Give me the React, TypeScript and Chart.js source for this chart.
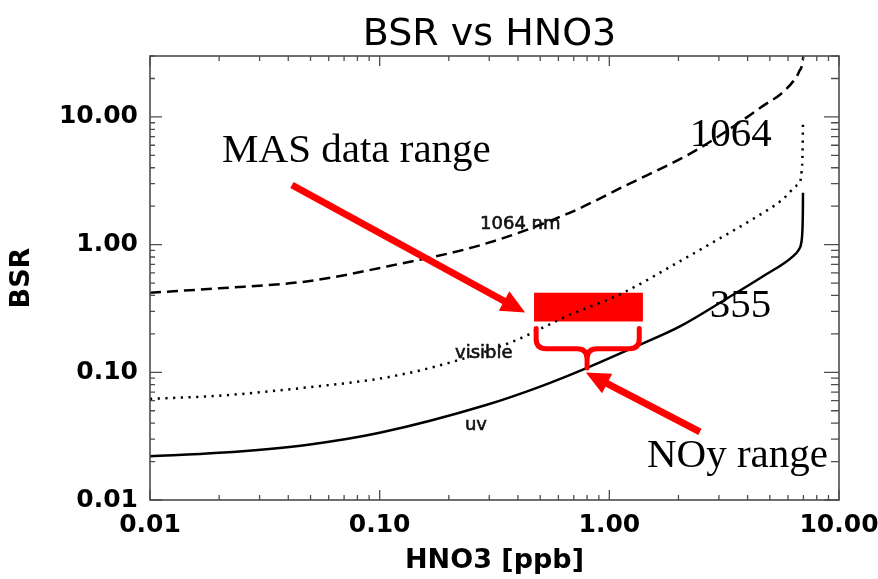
import React, { useEffect, useRef } from "react";
import { Chart, registerables } from "chart.js";

Chart.register(...registerables);

// 1064 nm curve (dashed)
const hno3Ir = [0.01, 0.02, 0.048, 0.11, 0.28, 0.65, 1.2, 2.31, 3.5, 4.67, 5.6, 6.3, 6.7, 6.97, 7.0];
const bsrIr = [0.42, 0.455, 0.515, 0.68, 1.0, 1.73, 2.95, 5.3, 8.5, 12.2, 15.2, 18.9, 22.6, 28.6, 32];

// visible curve (dotted)
const hno3Vis = [0.01, 0.02, 0.048, 0.11, 0.208, 0.38, 0.65, 1.15, 2.0, 2.82, 4.2, 5.7, 6.5, 6.76, 6.88, 6.94, 6.97];
const bsrVis = [0.062, 0.0656, 0.076, 0.092, 0.121, 0.174, 0.274, 0.42, 0.73, 1.04, 1.58, 2.27, 2.88, 3.09, 3.8, 5.2, 9.3];

// uv curve (solid)
const hno3Uv = [0.01, 0.02, 0.048, 0.1, 0.293, 0.5, 0.767, 1.3, 2.03, 3.2, 4.67, 6.3, 6.7, 6.85, 6.93, 6.96, 6.97];
const bsrUv = [0.022, 0.0234, 0.027, 0.0336, 0.0557, 0.0773, 0.105, 0.159, 0.229, 0.372, 0.565, 0.81, 0.92, 1.03, 1.3, 1.8, 2.55];

// axis ticks
const xTickValues = [0.01, 0.1, 1, 10];
const xTickLabels = ["0.01", "0.10", "1.00", "10.00"];
const yTickValues = [0.01, 0.1, 1, 10];
const yTickLabels = ["0.01", "0.10", "1.00", "10.00"];

// MAS data range box (HNO3 span, BSR span)
const masBoxHno3 = [0.47, 1.4];
const masBoxBsr = [0.25, 0.42];
// arrows: [tail, tip]
const masArrowHno3 = [0.0415, 0.43];
const masArrowBsr = [2.93, 0.294];
const noyArrowHno3 = [2.48, 0.79];
const noyArrowBsr = [0.0342, 0.0996];
// brace: [left, centre, right] and [top, bar, tip]
const braceHno3 = [0.48, 0.8, 1.35];
const braceBsr = [0.22, 0.153, 0.108];

// text annotations anchored in data space (left edge, baseline)
const curveNames = ["1064 nm", "visible", "uv"];
const curveNameHno3 = [0.2735, 0.213, 0.235];
const curveNameBsr = [1.32, 0.1305, 0.0355];
const bigNotes = ["MAS data range", "1064", "355", "NOy range"];
const bigNoteHno3 = [0.0206, 2.24, 2.74, 1.458];
const bigNoteBsr = [4.44, 5.93, 0.269, 0.01815];

const toPoints = (xs: number[], ys: number[]) => xs.map((x, i) => ({ x, y: ys[i] }));

const RED = "#ff0000";
const FRAME = "#4d4d4d";

function logTicks(min: number, max: number) {
  const out: { v: number; major: boolean }[] = [];
  for (let e = Math.floor(Math.log10(min)); e <= Math.ceil(Math.log10(max)); e++) {
    for (let k = 1; k <= 9; k++) {
      const v = k * Math.pow(10, e);
      if (v >= min * 0.999 && v <= max * 1.001) out.push({ v, major: k === 1 });
    }
  }
  return out;
}

const titlePlugin = {
  id: "plotTitle",
  afterDraw(chart: any) {
    const { ctx, chartArea: a } = chart;
    ctx.save();
    ctx.fillStyle = "#000";
    ctx.font = "38px 'DejaVu Sans'";
    ctx.textAlign = "center";
    ctx.textBaseline = "alphabetic";
    ctx.fillText("BSR vs HNO3", (a.left + a.right) / 2 - 5, a.top - 11);
    ctx.restore();
  },
};

const boxPlugin = {
  id: "masBox",
  beforeDatasetsDraw(chart: any) {
    const { ctx, scales } = chart;
    const x0 = scales.x.getPixelForValue(masBoxHno3[0]);
    const x1 = scales.x.getPixelForValue(masBoxHno3[1]);
    const y0 = scales.y.getPixelForValue(masBoxBsr[1]);
    const y1 = scales.y.getPixelForValue(masBoxBsr[0]);
    ctx.save();
    ctx.fillStyle = RED;
    ctx.fillRect(x0, y0, x1 - x0, y1 - y0);
    ctx.restore();
  },
};

function drawArrow(ctx: CanvasRenderingContext2D, x0: number, y0: number, x1: number, y1: number) {
  const dx = x1 - x0;
  const dy = y1 - y0;
  const len = Math.hypot(dx, dy);
  const ux = dx / len;
  const uy = dy / len;
  const head = 24;
  const half = 11;
  const bx = x1 - ux * head;
  const by = y1 - uy * head;
  ctx.beginPath();
  ctx.moveTo(x0, y0);
  ctx.lineTo(bx + ux * 2, by + uy * 2);
  ctx.stroke();
  ctx.beginPath();
  ctx.moveTo(x1, y1);
  ctx.lineTo(bx - uy * half, by + ux * half);
  ctx.lineTo(bx + uy * half, by - ux * half);
  ctx.closePath();
  ctx.fill();
}

const notesPlugin = {
  id: "notes",
  afterDatasetsDraw(chart: any) {
    const { ctx, scales } = chart;
    const px = (v: number) => scales.x.getPixelForValue(v);
    const py = (v: number) => scales.y.getPixelForValue(v);
    ctx.save();

    // arrows
    ctx.strokeStyle = RED;
    ctx.fillStyle = RED;
    ctx.lineWidth = 7;
    ctx.lineCap = "butt";
    drawArrow(ctx, px(masArrowHno3[0]), py(masArrowBsr[0]), px(masArrowHno3[1]), py(masArrowBsr[1]));
    drawArrow(ctx, px(noyArrowHno3[0]), py(noyArrowBsr[0]), px(noyArrowHno3[1]), py(noyArrowBsr[1]));

    // brace under the box
    const bl = px(braceHno3[0]);
    const bc = px(braceHno3[1]);
    const br = px(braceHno3[2]);
    const bt = py(braceBsr[0]);
    const bm = py(braceBsr[1]);
    const bp = py(braceBsr[2]);
    const r = 10;
    ctx.lineWidth = 5;
    ctx.lineCap = "round";
    ctx.lineJoin = "round";
    ctx.beginPath();
    ctx.moveTo(bl, bt);
    ctx.lineTo(bl, bm - r);
    ctx.quadraticCurveTo(bl, bm, bl + r, bm);
    ctx.lineTo(bc - r, bm);
    ctx.quadraticCurveTo(bc, bm, bc, bm + r);
    ctx.lineTo(bc, bp);
    ctx.moveTo(br, bt);
    ctx.lineTo(br, bm - r);
    ctx.quadraticCurveTo(br, bm, br - r, bm);
    ctx.lineTo(bc + r, bm);
    ctx.quadraticCurveTo(bc, bm, bc, bm + r);
    ctx.stroke();

    // curve names (slightly heavy)
    ctx.fillStyle = "#111";
    ctx.strokeStyle = "#111";
    ctx.lineWidth = 0.6;
    ctx.font = "18px 'DejaVu Sans'";
    ctx.textAlign = "left";
    ctx.textBaseline = "alphabetic";
    curveNames.forEach((t, i) => {
      const x = px(curveNameHno3[i]);
      const y = py(curveNameBsr[i]);
      ctx.fillText(t, x, y);
      ctx.strokeText(t, x, y);
    });

    // large serif notes
    ctx.fillStyle = "#000";
    ctx.font = "41px 'Liberation Serif'";
    bigNotes.forEach((t, i) => ctx.fillText(t, px(bigNoteHno3[i]), py(bigNoteBsr[i])));

    ctx.restore();
  },
};

const framePlugin = {
  id: "frameTicks",
  afterDatasetsDraw(chart: any) {
    const { ctx, chartArea: a, scales } = chart;
    const xs = scales.x;
    const ys = scales.y;
    ctx.save();
    ctx.strokeStyle = FRAME;
    ctx.lineWidth = 1.6;
    ctx.strokeRect(a.left, a.top, a.right - a.left, a.bottom - a.top);
    ctx.lineWidth = 1.3;
    ctx.beginPath();
    for (const t of logTicks(xs.min, xs.max)) {
      const x = xs.getPixelForValue(t.v);
      const L = t.major ? 10 : 5;
      ctx.moveTo(x, a.bottom);
      ctx.lineTo(x, a.bottom - L);
      ctx.moveTo(x, a.top);
      ctx.lineTo(x, a.top + L);
    }
    for (const t of logTicks(ys.min, ys.max)) {
      const y = ys.getPixelForValue(t.v);
      ctx.moveTo(a.left, y);
      ctx.lineTo(a.left + (t.major ? 12 : 5), y);
      ctx.moveTo(a.right, y);
      ctx.lineTo(a.right - (t.major ? 15 : 8), y);
    }
    ctx.stroke();
    ctx.restore();
  },
};

export default function App() {
  const ref = useRef<HTMLCanvasElement | null>(null);

  useEffect(() => {
    if (!ref.current) return;
    const tickFont = { family: "'DejaVu Sans'", size: 25, weight: "bold" as const };
    const chart = new Chart(ref.current, {
      type: "line",
      data: {
        datasets: [
          {
            label: "1064 nm",
            data: toPoints(hno3Ir, bsrIr),
            borderColor: "#000",
            borderWidth: 2.5,
            borderDash: [11, 6],
            pointRadius: 0,
            cubicInterpolationMode: "monotone",
          },
          {
            label: "visible",
            data: toPoints(hno3Vis, bsrVis),
            borderColor: "#000",
            borderWidth: 2.5,
            borderDash: [2.2, 5.5],
            pointRadius: 0,
            cubicInterpolationMode: "monotone",
          },
          {
            label: "uv",
            data: toPoints(hno3Uv, bsrUv),
            borderColor: "#000",
            borderWidth: 2.5,
            pointRadius: 0,
            cubicInterpolationMode: "monotone",
          },
        ],
      },
      options: {
        animation: false,
        responsive: false,
        events: [],
        layout: { padding: { top: 56, right: 39, left: 0, bottom: 0 } },
        plugins: { legend: { display: false }, tooltip: { enabled: false }, title: { display: false } },
        scales: {
          x: {
            type: "logarithmic",
            min: 0.01,
            max: 10,
            grid: { display: false, drawTicks: false },
            border: { display: false },
            afterBuildTicks: (s: any) => {
              s.ticks = xTickValues.map((value) => ({ value }));
            },
            afterFit: (s: any) => {
              s.height = 79;
              s.paddingLeft = 0;
              s.paddingRight = 0;
            },
            ticks: {
              autoSkip: false,
              maxRotation: 0,
              padding: 10,
              color: "#000",
              font: tickFont,
              callback: (v: any) => xTickLabels[xTickValues.indexOf(Number(v))] ?? "",
            },
            title: {
              display: true,
              text: "HNO3 [ppb]",
              color: "#000",
              font: { family: "'DejaVu Sans'", size: 27, weight: "bold", lineHeight: 1 },
              padding: { top: 0, bottom: 5 },
            },
          },
          y: {
            type: "logarithmic",
            min: 0.01,
            max: 30,
            grid: { display: false, drawTicks: false },
            border: { display: false },
            afterBuildTicks: (s: any) => {
              s.ticks = yTickValues.map((value) => ({ value }));
            },
            afterFit: (s: any) => {
              s.width = 150;
              s.paddingTop = 0;
              s.paddingBottom = 0;
            },
            ticks: {
              autoSkip: false,
              padding: 12,
              color: "#000",
              font: tickFont,
              callback: (v: any) => yTickLabels[yTickValues.indexOf(Number(v))] ?? "",
            },
            title: {
              display: true,
              text: "BSR",
              color: "#000",
              font: { family: "'DejaVu Sans'", size: 27, weight: "bold", lineHeight: 1 },
              padding: { top: 8, bottom: 0 },
            },
          },
        },
      },
      plugins: [boxPlugin, framePlugin, notesPlugin, titlePlugin],
    });
    return () => chart.destroy();
  }, []);

  return (
    <div style={{ position: "fixed", left: 0, top: 0, width: 878, height: 579, background: "#fff" }}>
      <canvas ref={ref} width={878} height={579} style={{ display: "block" }} />
    </div>
  );
}
